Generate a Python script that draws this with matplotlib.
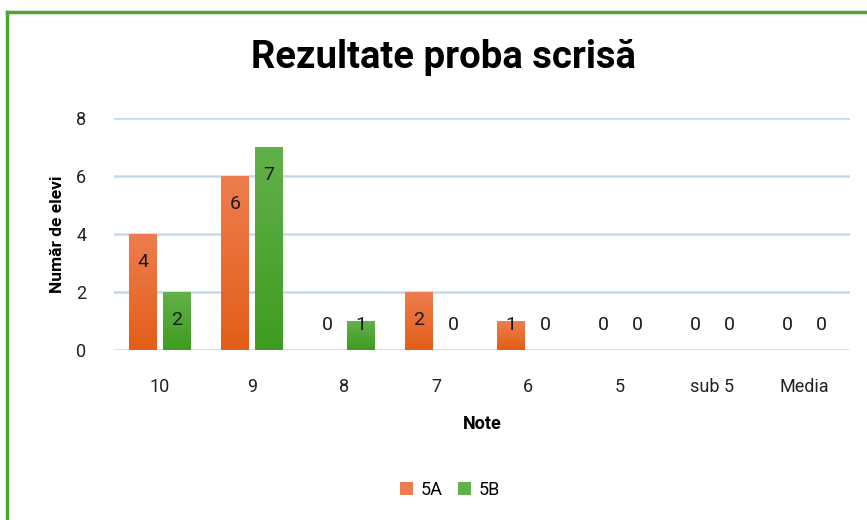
import numpy as np
import matplotlib.pyplot as plt
from matplotlib.colors import LinearSegmentedColormap
from matplotlib.lines import Line2D

# date din grafic
note = ['10', '9', '8', '7', '6', '5', 'sub 5', 'Media']
elevi_5A = [4, 6, 0, 2, 1, 0, 0, 0]
elevi_5B = [2, 7, 1, 0, 0, 0, 0, 0]
clase = ['5A', '5B']

plt.rcParams['font.family'] = ['Roboto', 'DejaVu Sans']

fig = plt.figure(figsize=(8.67, 5.2), dpi=100)
ax = fig.add_axes([114/867, 1-350/520, 736/867, 232/520])

x = np.arange(len(note))
w = 0.30
off = 0.185

culori = {
    '5A': ('#EE7D4E', '#E35E18'),
    '5B': ('#62B04A', '#3F9C20'),
}

grad = np.linspace(0, 1, 100).reshape(-1, 1)

for clasa, vals, dx in [('5A', elevi_5A, -off), ('5B', elevi_5B, off)]:
    sus, jos = culori[clasa]
    cmap = LinearSegmentedColormap.from_list(clasa, [jos, sus])
    bars = ax.bar(x + dx, vals, w, color=sus, zorder=2, label=clasa)
    for b, v in zip(bars, vals):
        if v > 0:
            im = ax.imshow(grad, cmap=cmap, origin='lower', aspect='auto',
                           extent=[b.get_x(), b.get_x() + b.get_width(), 0, v],
                           zorder=3)
            im.set_clip_path(b)
        # eticheta in interiorul barei, sus
        ax.text(b.get_x() + b.get_width()/2, max(v - 0.95, 0.85), str(v),
                ha='center', va='center', fontsize=14, color='#1a1a1a', zorder=4)

ax.set_xlim(-0.5, len(note) - 0.5)
ax.set_ylim(0, 8)
ax.set_yticks(range(0, 9, 2))
ax.set_xticks(x)
ax.set_xticklabels(note)
ax.tick_params(length=0, labelsize=13, colors='#222222')
ax.tick_params(axis='x', pad=20)
ax.tick_params(axis='y', pad=20)
ax.grid(axis='y', color='#C4D9EE', linewidth=1.8, zorder=0)
ax.set_axisbelow(True)
for s in ax.spines.values():
    s.set_visible(False)

ax.set_xlabel('Note', fontsize=13, fontweight='bold', labelpad=14)
ax.set_ylabel('Număr de elevi', fontsize=12.5, fontweight='bold', labelpad=8)

fig.text(443/867, 1-58/520, 'Rezultate proba scrisă', ha='center', va='center',
         fontsize=27.5, fontweight='bold', color='black')

handles, labels = ax.get_legend_handles_labels()
fig.legend(handles, labels, loc='center', bbox_to_anchor=(450/867, 1-490/520),
           ncol=2, frameon=False, fontsize=13, handlelength=0.7, handleheight=0.7,
           columnspacing=0.9, handletextpad=0.4)

# chenar verde (stanga si sus)
verde = '#4FA52F'
fig.add_artist(Line2D([7/867, 7/867], [0, 1-12/520], color=verde, lw=2.5,
                      transform=fig.transFigure))
fig.add_artist(Line2D([7/867, 1], [1-12/520, 1-12/520], color=verde, lw=2.5,
                      transform=fig.transFigure))

fig.savefig('out.png', dpi=100)
